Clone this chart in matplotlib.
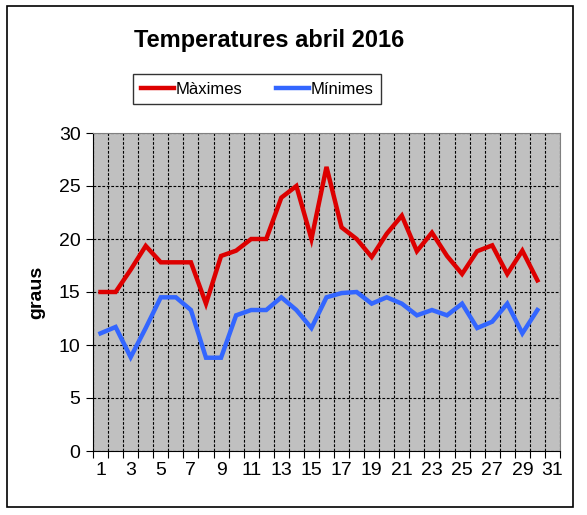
import matplotlib.pyplot as plt
from matplotlib.patches import Rectangle

# dades de temperatura, abril 2016
dies = list(range(1, 31))
maximes = [15.0, 15.0, 17.1, 19.35, 17.8, 17.8, 17.8, 13.9, 18.4, 18.9,
           20.0, 20.0, 23.9, 25.0, 20.0, 26.8, 21.1, 20.0, 18.3, 20.5,
           22.2, 18.85, 20.6, 18.4, 16.7, 18.85, 19.4, 16.7, 18.9, 16.1]
minimes = [11.1, 11.7, 8.85, 11.6, 14.5, 14.5, 13.3, 8.8, 8.8, 12.8,
           13.3, 13.3, 14.5, 13.3, 11.6, 14.5, 14.9, 15.0, 13.9, 14.5,
           13.9, 12.8, 13.3, 12.8, 13.9, 11.6, 12.2, 13.9, 11.1, 13.3]
etiquetes_x = [str(d) for d in range(1, 32, 2)]
ticks_y = [0, 5, 10, 15, 20, 25, 30]

plt.rcParams['font.family'] = ['Liberation Sans', 'DejaVu Sans']

fig = plt.figure(figsize=(5.87, 5.15), dpi=100)
ax = fig.add_axes([93 / 587, 1 - 451 / 515, 467 / 587, 318 / 515])

# marc exterior del gràfic
fig.patches.append(Rectangle((7 / 587, 1 - 507 / 515), 566 / 587, 501 / 515,
                             transform=fig.transFigure, fill=False,
                             edgecolor='black', linewidth=1.2))

ax.set_facecolor('#C0C0C0')
ax.plot(dies, maximes, color='#DD0000', linewidth=3.2, label='Màximes',
        solid_joinstyle='miter', zorder=3)
ax.plot(dies, minimes, color='#3366FF', linewidth=3.2, label='Mínimes',
        solid_joinstyle='miter', zorder=3)

ax.set_xlim(0.5, 31.5)
ax.set_ylim(0, 30)
ax.set_yticks(ticks_y)
ax.set_xticks([i + 0.5 for i in range(0, 32)])
ax.set_xticklabels([])
ax.set_xticks(list(range(1, 32, 2)), minor=True)
ax.set_xticklabels(etiquetes_x, minor=True)
ax.tick_params(axis='x', which='minor', length=0, labelsize=14, pad=8)
ax.tick_params(axis='x', which='major', length=5, direction='out')
ax.tick_params(axis='y', length=5, direction='out', labelsize=14, pad=4)

ax.grid(True, which='major', color='black', linestyle=(0, (2.5, 1.5)),
        linewidth=0.8)
ax.set_axisbelow(True)

for s in ['top', 'right']:
    ax.spines[s].set_color('#808080')
ax.spines['left'].set_color('black')
ax.spines['bottom'].set_color('black')

ax.set_ylabel('graus', fontsize=14, fontweight='bold', labelpad=10)

fig.text(269 / 587, 1 - 40 / 515, 'Temperatures abril 2016', fontsize=17,
         fontweight='bold', ha='center', va='center')

leg = fig.legend(loc='center', bbox_to_anchor=(257 / 587, 1 - 89 / 515),
                 ncol=2, fontsize=12, frameon=True, fancybox=False,
                 edgecolor='black', handlelength=2.0, handletextpad=0.1,
                 columnspacing=2.0, borderpad=0.45)
leg.get_frame().set_linewidth(1.0)

fig.savefig('out.png', dpi=100)
